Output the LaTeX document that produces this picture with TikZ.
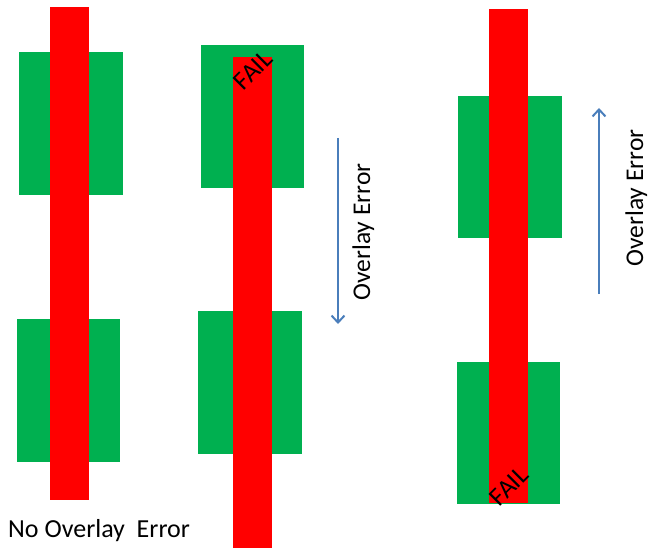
\documentclass[tikz,border=0pt]{standalone}
\usepackage{fontspec}
\setmainfont{Carlito}
\usetikzlibrary{arrows.meta}
\definecolor{padgreen}{HTML}{00B050}
\definecolor{barred}{HTML}{FF0000}
\definecolor{arrowblue}{HTML}{4A7EBB}
\tikzset{
  pad/.style={fill=padgreen, draw=none, inner sep=0pt, outer sep=0pt, minimum width=104pt, minimum height=143pt},
  bar/.style={fill=barred, draw=none, inner sep=0pt, outer sep=0pt, minimum width=39pt},
  failtxt/.style={rotate=45, inner sep=0pt, font=\fontsize{26}{30}\selectfont},
  errtxt/.style={inner sep=0pt, font=\fontsize{25.5}{30}\selectfont},
  errarrow/.style={draw=arrowblue, line width=2pt, -{Straight Barb[length=7pt, width=13pt, line width=2pt]}}
}
\begin{document}
\begin{tikzpicture}[x=1pt, y=-1pt]
\useasboundingbox (0,0) rectangle (652,548);
% left group
\node[pad] (g1) at (71,123.5) {};
\node[pad, minimum width=103pt] (g2) at (68.5,390.5) {};
\node[bar, minimum height=493pt] (r1) at (69.5,253.5) {};
% middle group
\node[pad, minimum width=103.5pt] (g3) at (252.3,116.5) {};
\node[pad] (g4) at (250,382.5) {};
\node[bar, minimum height=491pt] (r2) at (252.5,302.5) {};
\node[failtxt] (f1) at (253,70) {FAIL};
% right group
\node[pad, minimum height=142.5pt] (g5) at (510,166.8) {};
\node[pad, minimum width=103.3pt, minimum height=142.3pt] (g6) at (508.3,432.8) {};
\node[bar, minimum height=493.5pt] (r3) at (508.5,256.2) {};
\node[failtxt] (f2) at (509,486) {FAIL};
% arrows
\coordinate (a1s) at (338,138);
\coordinate (a1e) at (338,324);
\draw[errarrow] (a1s) -- (a1e);
\node[errtxt, rotate=90, anchor=base] (t1) at (370,232) {Overlay Error};
\coordinate (a2s) at (599,294);
\coordinate (a2e) at (599,108);
\draw[errarrow] (a2s) -- (a2e);
\node[errtxt, rotate=90, anchor=base] (t2) at (643,198) {Overlay Error};
% bottom label
\node[errtxt, font=\fontsize{26}{30}\selectfont, anchor=base west] (t3) at (8,537) {No Overlay~~Error};
\end{tikzpicture}
\end{document}
